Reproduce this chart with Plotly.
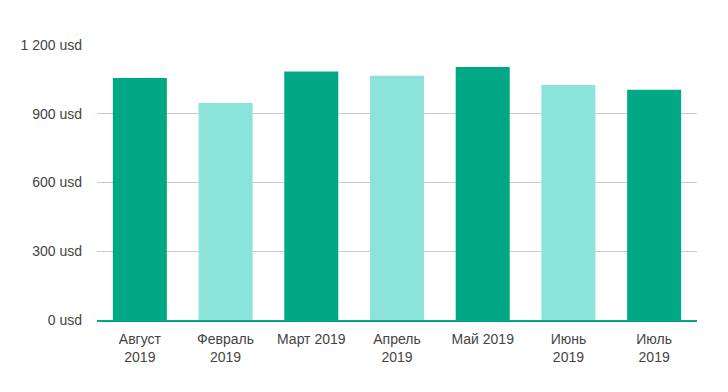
import plotly.graph_objects as go

categories = ["Август<br>2019", "Февраль<br>2019", "Март 2019", "Апрель<br>2019", "Май 2019", "Июнь<br>2019", "Июль<br>2019"]
values = [1056, 947, 1084, 1066, 1104, 1025, 1005]
colors = ["#00A886", "#8CE3DA", "#00A886", "#8CE3DA", "#00A886", "#8CE3DA", "#00A886"]
y_ticks = [0, 300, 600, 900, 1200]
y_tick_labels = ["0 usd", "300 usd", "600 usd", "900 usd", "1 200 usd"]

fig = go.Figure(go.Bar(x=categories, y=values, marker=dict(color=colors, line=dict(width=0))))

fig.update_layout(
    width=728, height=392,
    margin=dict(l=89, r=39, t=37, b=80),
    plot_bgcolor="white", paper_bgcolor="white",
    bargap=0.37,
    showlegend=False,
    font=dict(family="Liberation Sans, Arial", size=14, color="#444444"),
)
fig.update_yaxes(
    range=[0, 1200], tickvals=y_ticks, ticktext=y_tick_labels,
    showgrid=True, gridcolor="#CCCCCC", gridwidth=1,
    zeroline=False, showline=False, ticklabelstandoff=14,
    automargin=False,
)
fig.update_xaxes(
    showline=True, linecolor="#00A886", linewidth=1.5,
    showgrid=False, ticklabelstandoff=5, automargin=False,
)

fig.write_html("out.html")
